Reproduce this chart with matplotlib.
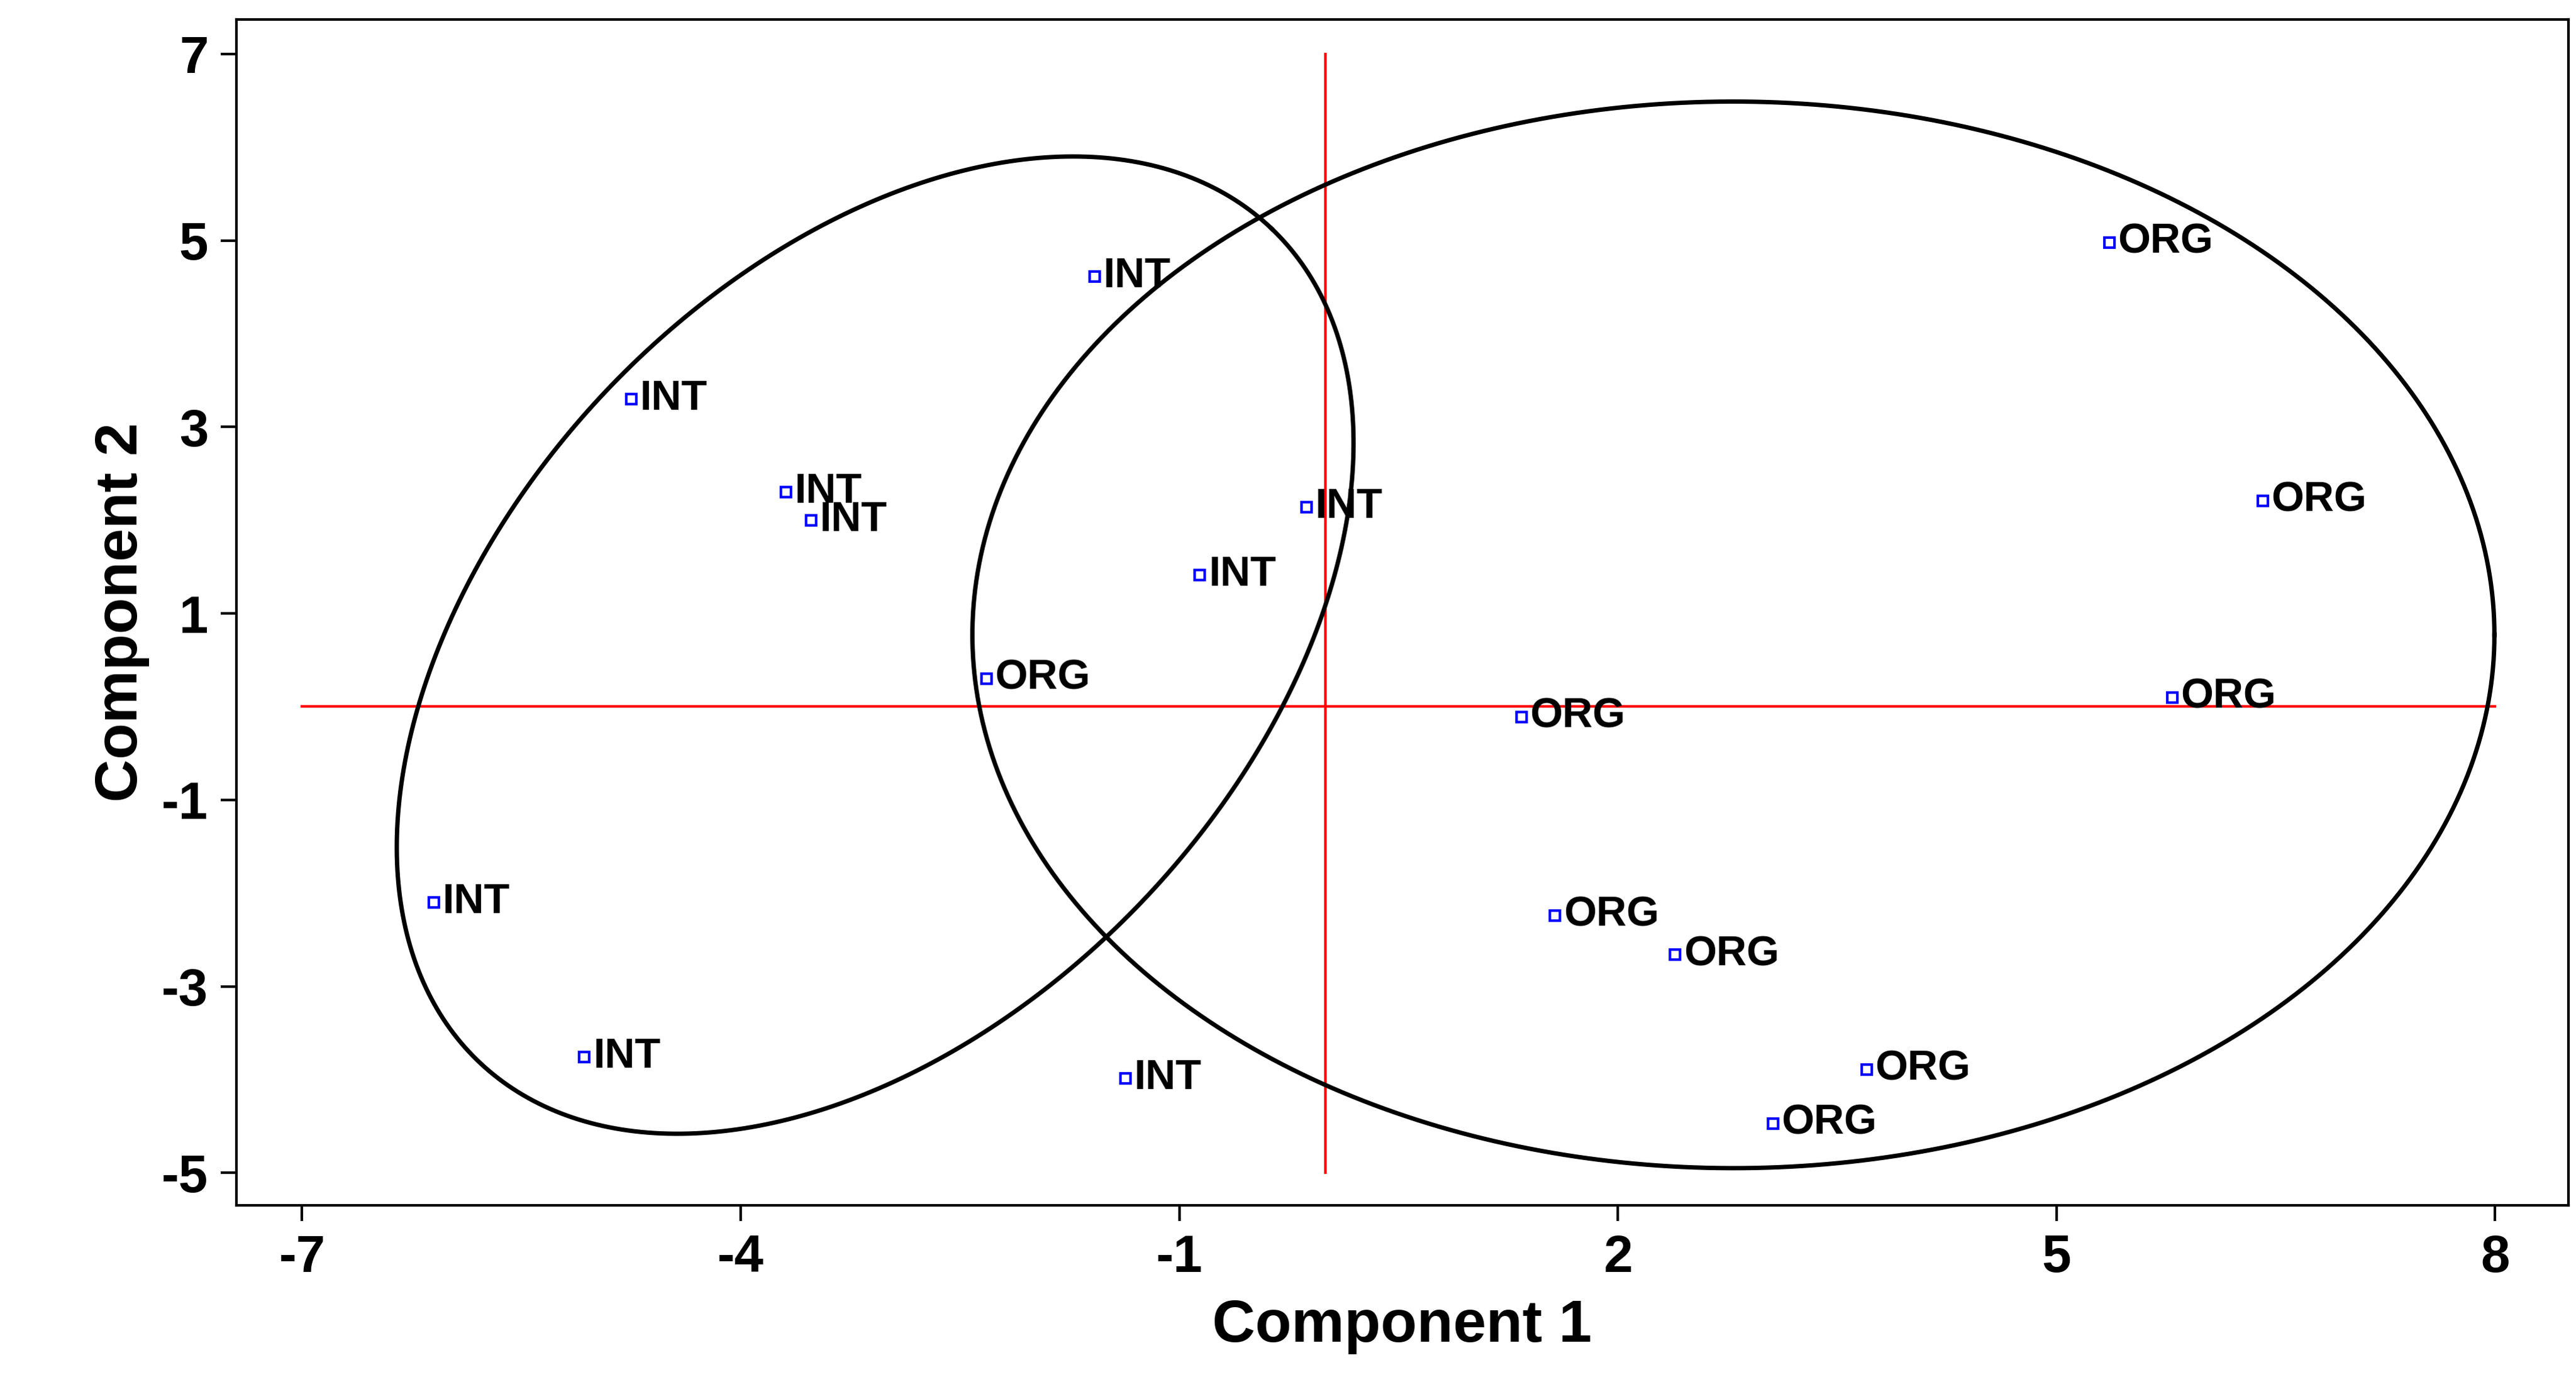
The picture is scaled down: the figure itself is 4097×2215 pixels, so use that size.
import numpy as np
import matplotlib.pyplot as plt

plt.rcParams['font.family'] = ['Liberation Sans', 'DejaVu Sans']
plt.rcParams['font.weight'] = 'bold'
plt.rcParams['axes.unicode_minus'] = False

int_x = [-1.58, -4.75, -3.69, -3.52, -0.13, -0.86, -6.10, -5.07, -1.37]
int_y = [4.61, 3.30, 2.30, 2.00, 2.14, 1.41, -2.10, -3.76, -3.99]
org_x = [-2.32, 5.36, 6.41, 5.79, 1.34, 1.57, 2.39, 3.70, 3.06]
org_y = [0.30, 4.98, 2.21, 0.10, -0.11, -2.24, -2.66, -3.89, -4.47]

# big ellipse (axis aligned): center, width, height
big_c = (2.79, 0.77)
big_w, big_h = 10.41, 11.44
# small tilted ellipse: center, semi-axes in screen-proportional units, angle
small_c = (-3.08, 0.66)
small_major, small_minor, small_angle = 348, 224, 46.4
px_x, px_y = 88.53, 56.4

fig = plt.figure(figsize=(40.97, 22.15), dpi=100)
ax = fig.add_axes([0.0917, 0.134, 0.997 - 0.0917, 0.986 - 0.134])

ax.plot([-7, 8], [0, 0], color='red', lw=3, zorder=1)
ax.plot([0, 0], [-5, 7], color='red', lw=3, zorder=1)

t = np.linspace(0, 2 * np.pi, 400)
ax.plot(big_c[0] + big_w / 2 * np.cos(t), big_c[1] + big_h / 2 * np.sin(t), color='black', lw=5)
phi = np.radians(small_angle)
sx = small_major * np.cos(t) * np.cos(phi) - small_minor * np.sin(t) * np.sin(phi)
sy = small_major * np.cos(t) * np.sin(phi) + small_minor * np.sin(t) * np.cos(phi)
ax.plot(small_c[0] + sx / px_x, small_c[1] + sy / px_y, color='black', lw=5)

for xs, ys, lab in [(int_x, int_y, 'INT'), (org_x, org_y, 'ORG')]:
    ax.plot(xs, ys, 's', mfc='none', mec='blue', ms=12, mew=3, zorder=3)
    for x, y in zip(xs, ys):
        ax.text(x + 0.06, y, lab, fontsize=48, fontweight='bold', va='center', ha='left')

ax.set_xlim(-7.45, 8.5)
ax.set_ylim(-5.35, 7.37)
ax.set_xticks([-7, -4, -1, 2, 5, 8])
ax.set_yticks([-5, -3, -1, 1, 3, 5, 7])
ax.tick_params(direction='out', length=18, width=3, labelsize=60, pad=14)
for lbl in ax.get_xticklabels() + ax.get_yticklabels():
    lbl.set_fontweight('bold')
for s in ax.spines.values():
    s.set_linewidth(3)
ax.set_xlabel('Component 1', fontsize=68, fontweight='bold', labelpad=18)
ax.set_ylabel('Component 2', fontsize=68, fontweight='bold', labelpad=14)

fig.savefig('out.png', dpi=100)
